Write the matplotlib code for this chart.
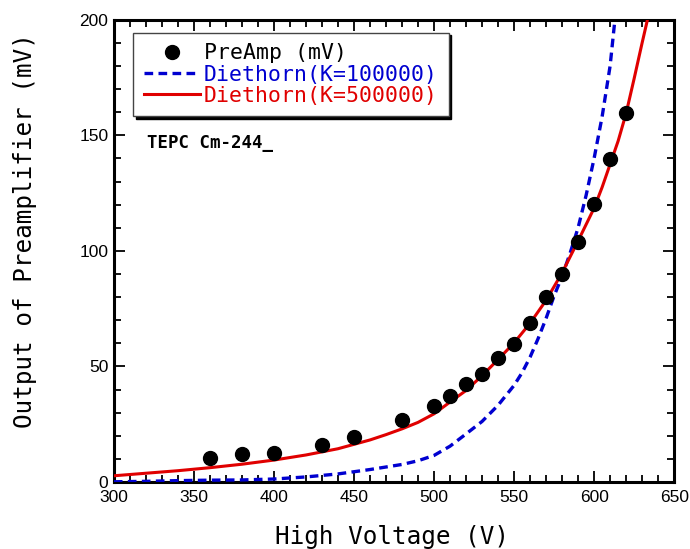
import matplotlib
matplotlib.use("Agg")
import matplotlib.pyplot as plt
import numpy as np

# measured preamp output
hv_points = [360, 380, 400, 430, 450, 480, 500, 510, 520, 530, 540, 550,
             560, 570, 580, 590, 600, 610, 620]
preamp_mv = [10.4, 12.0, 12.7, 16.0, 19.6, 26.9, 32.9, 37.4, 42.2, 46.7,
             53.7, 59.8, 68.7, 80.0, 90.2, 103.7, 120.1, 139.8, 159.7]

# Diethorn curves
hv_k1 = [300, 320, 340, 360, 380, 400, 420, 440, 460, 480, 490, 500, 510,
         520, 530, 540, 550, 555, 560, 565, 570, 575, 580, 585, 590, 595,
         600, 605, 610, 613]
diet_k1 = [0.1, 0.3, 0.6, 0.8, 0.9, 1.3, 2.2, 3.5, 5.4, 7.6, 9.2, 11.5,
           15.5, 20.8, 26.2, 33.2, 41.8, 47.3, 54.0, 62.0, 70.8, 80.5, 89.0,
           99.0, 110.0, 124.0, 140.0, 158.0, 180.0, 200.0]

hv_k5 = [300, 320, 340, 360, 380, 400, 420, 440, 460, 470, 480, 490, 500,
         510, 520, 530, 540, 550, 560, 570, 580, 590, 600, 605, 610, 615,
         620, 625, 630, 634]
diet_k5 = [2.7, 3.8, 4.9, 6.2, 7.7, 9.5, 11.7, 14.4, 18.2, 20.5, 23.0, 25.8,
           29.5, 34.6, 39.6, 46.0, 53.0, 60.2, 68.7, 78.6, 90.5, 104.3, 118.5,
           127.5, 137.5, 147.5, 159.5, 174.5, 190.0, 202.0]

mono = 'DejaVu Sans Mono'

fig = plt.figure(figsize=(6.9, 5.49), dpi=100)
ax = fig.add_axes([0.165, 0.122, 0.812, 0.842])

ax.plot(hv_points, preamp_mv, 'o', color='black', markersize=10,
        label='PreAmp (mV)', zorder=5)
ax.plot(hv_k1, diet_k1, color='#0000d0', linestyle=(0, (2.6, 1.6)),
        linewidth=2.4, label='Diethorn(K=100000)', zorder=3)
ax.plot(hv_k5, diet_k5, color='#e00000', linestyle='-', linewidth=2.2,
        label='Diethorn(K=500000)', zorder=4)

ax.set_xlim(300, 650)
ax.set_ylim(0, 200)
ax.set_xticks(np.arange(300, 651, 50))
ax.set_yticks(np.arange(0, 201, 50))
ax.set_xticks(np.arange(300, 651, 10), minor=True)
ax.set_yticks(np.arange(0, 201, 10), minor=True)
ax.tick_params(which='both', direction='in', top=True, right=True,
               width=1.3, labelsize=12.5)
ax.tick_params(axis='x', pad=6)
ax.tick_params(axis='y', pad=4)
ax.tick_params(which='major', length=8)
ax.tick_params(which='minor', length=5)
for lbl in ax.get_xticklabels() + ax.get_yticklabels():
    lbl.set_family('Liberation Sans')
for sp in ax.spines.values():
    sp.set_linewidth(2.2)

ax.set_xlabel('High Voltage (V)', fontsize=17.5, family=mono)
ax.set_ylabel('Output of Preamplifier (mV)', fontsize=17.5, family=mono)
ax.xaxis.set_label_coords(0.496, -0.092)
ax.yaxis.set_label_coords(-0.138, 0.545)

ax.text(321, 146.8, 'TEPC Cm-244_', fontsize=12.5, family=mono,
        fontweight='bold', ha='left', va='center')

leg = ax.legend(loc='upper left', bbox_to_anchor=(0.034, 0.972),
                borderaxespad=0, prop={'family': mono, 'size': 15.5},
                frameon=True, fancybox=False, shadow={'color': 'black', 'alpha': 1.0},
                handlelength=2.6, handletextpad=0.2, labelspacing=0.05,
                borderpad=0.5)
leg.get_frame().set_edgecolor('#444444')
leg.get_frame().set_linewidth(1.0)
for txt, col in zip(leg.get_texts(), ['black', '#0000d0', '#e00000']):
    txt.set_color(col)

fig.savefig('out.png', dpi=100)
